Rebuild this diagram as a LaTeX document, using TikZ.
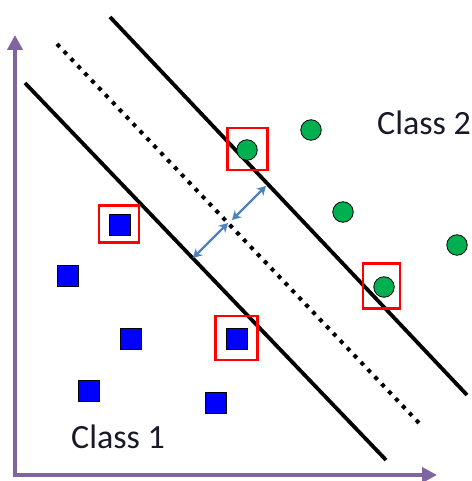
\documentclass[tikz,border=0pt]{standalone}
\usepackage{fontspec}
\setmainfont{Carlito}
\usetikzlibrary{arrows.meta}
\definecolor{axispurple}{RGB}{128,100,162}
\definecolor{ptgreen}{RGB}{0,176,80}
\definecolor{ptblue}{RGB}{0,0,255}
\definecolor{gapblue}{RGB}{79,129,189}
\definecolor{labelink}{RGB}{25,25,40}

\begin{document}
\begin{tikzpicture}[%
      x=1pt, y=-1pt,
      sq/.style={draw=black, line width=0.8pt, fill=ptblue, minimum size=21pt, inner sep=0pt},
      dot/.style={circle, draw=black, line width=0.8pt, fill=ptgreen, minimum size=20.5pt, inner sep=0pt},
      sv/.style={draw=red, line width=2.8pt, minimum width=40pt, minimum height=42pt, inner sep=0pt},
      margin/.style={color=black, line width=3.8pt},
      gap/.style={color=gapblue, line width=2.4pt, {Stealth[length=9pt,width=10pt]}-{Stealth[length=9pt,width=10pt]}},
      classlabel/.style={font=\fontsize{34}{37}\selectfont, text=labelink, inner sep=0pt, anchor=base west},
      ]
      \useasboundingbox (0,0) rectangle (471,481);

      % axes
      \coordinate (ytip) at (15,35);
      \coordinate (o) at (15,475);
      \coordinate (xtip) at (437,475);
      \draw [color=axispurple, line width=4pt,
             {Triangle[length=15pt,width=15pt]}-{Triangle[length=15pt,width=15pt]}]
            (ytip) -- (o) -- (xtip);

      % margin lines and hyperplane
      \coordinate (lowa) at (25,83);
      \coordinate (lowb) at (386,460);
      \coordinate (mida) at (57,44);
      \coordinate (midb) at (419,423);
      \coordinate (upa) at (110,17);
      \coordinate (upb) at (467,395);
      \draw [margin] (lowa) -- (lowb);
      \draw [margin] (upa) -- (upb);
      \draw [color=black, line width=4pt, dash pattern=on 4pt off 6pt] (mida) -- (midb);

      % margin width
      \coordinate (g1a) at (193,258);
      \coordinate (g1b) at (228,223);
      \coordinate (g2a) at (232,220);
      \coordinate (g2b) at (266,186);
      \draw [gap] (g1a) -- (g1b);
      \draw [gap] (g2a) -- (g2b);

      % support vectors
      \node [sv, minimum height=37pt] (sv1) at (119,224) {};
      \node [sv, minimum width=42pt, minimum height=44pt] (sv2) at (236.5,338) {};
      \node [sv] (sv3) at (247.5,149) {};
      \node [sv, minimum width=37pt, minimum height=45pt] (sv4) at (381.5,286) {};

      % class 1
      \node [sq] (s1) at (120,225) {};
      \node [sq] (s2) at (68,276) {};
      \node [sq] (s3) at (131,339) {};
      \node [sq] (s4) at (237,339) {};
      \node [sq] (s5) at (89,391) {};
      \node [sq] (s6) at (216,403) {};

      % class 2
      \node [dot] (c1) at (247,150) {};
      \node [dot] (c2) at (311,130) {};
      \node [dot] (c3) at (343,212) {};
      \node [dot] (c4) at (457,245) {};
      \node [dot] (c5) at (384,287) {};

      \node [classlabel] (lab1) at (71,448) {Class 1};
      \node [classlabel] (lab2) at (377,135) {Class 2};
      \end{tikzpicture}
\end{document}
